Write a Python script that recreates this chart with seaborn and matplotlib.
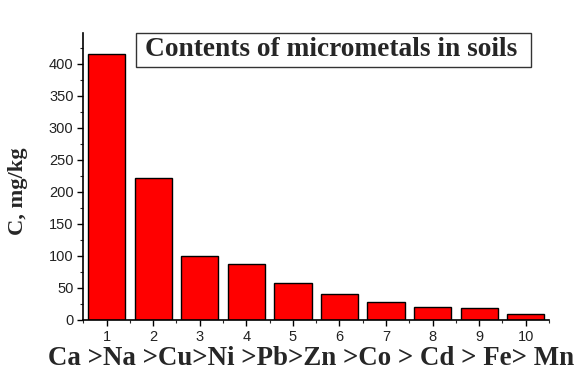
import matplotlib
matplotlib.use("Agg")
import matplotlib.pyplot as plt
import matplotlib.patches as mpatches
import seaborn as sns
import pandas as pd
from matplotlib.ticker import MultipleLocator

positions = [1, 2, 3, 4, 5, 6, 7, 8, 9, 10]
values = [416, 222, 100, 87, 57, 40, 28, 21, 18, 9.5]
xlabel = "Ca >Na >Cu>Ni >Pb>Zn >Co > Cd > Fe> Mn"
ylabel = "C, mg/kg"
title = "Contents of micrometals in soils"

df = pd.DataFrame({"pos": positions, "val": values})

sns.set_style("ticks")
fig = plt.figure(figsize=(5.81, 3.71), dpi=100)
ax = fig.add_axes([0.1434, 0.1375, 0.8016, 0.7735])

sns.barplot(data=df, x="pos", y="val", native_scale=True, width=0.8,
            color="#ff0000", saturation=1, edgecolor="black", linewidth=1.0, ax=ax)

ax.set_xlim(0.5, 10.5)
ax.set_ylim(0, 448)
ax.set_xticks(positions)
ax.set_xticklabels([str(p) for p in positions])
ax.xaxis.set_minor_locator(MultipleLocator(0.5))
ax.yaxis.set_minor_locator(MultipleLocator(25))
ax.set_yticks(range(0, 401, 50))
ax.tick_params(axis="both", which="major", direction="out", length=4, width=1,
               labelsize=10.5, colors="black", pad=3)
ax.tick_params(axis="both", which="minor", direction="out", length=2.5, width=0.8)
for lab in ax.get_xticklabels() + ax.get_yticklabels():
    lab.set_fontfamily("Liberation Sans")
    lab.set_color("#222222")

for s in ["top", "right"]:
    ax.spines[s].set_visible(False)
for s in ["left", "bottom"]:
    ax.spines[s].set_linewidth(1.2)
    ax.spines[s].set_color("black")

ax.set_xlabel(xlabel, fontfamily="Liberation Serif", fontweight="bold", fontsize=19.4)
ax.xaxis.set_label_coords(0.489, -0.092)
ax.set_ylabel(ylabel, fontfamily="Liberation Serif", fontweight="bold", fontsize=16.2)
ax.yaxis.set_label_coords(-0.119, 0.449)

box = mpatches.Rectangle((0.113, 0.882), 0.848, 0.118, transform=ax.transAxes,
                         facecolor="white", edgecolor="#333333", linewidth=1,
                         clip_on=False, zorder=5)
ax.add_patch(box)
ax.text(0.532, 0.941, title, transform=ax.transAxes, fontfamily="Liberation Serif",
        fontweight="bold", fontsize=19.7, ha="center", va="center", zorder=6)

fig.savefig("out.png", dpi=100)
